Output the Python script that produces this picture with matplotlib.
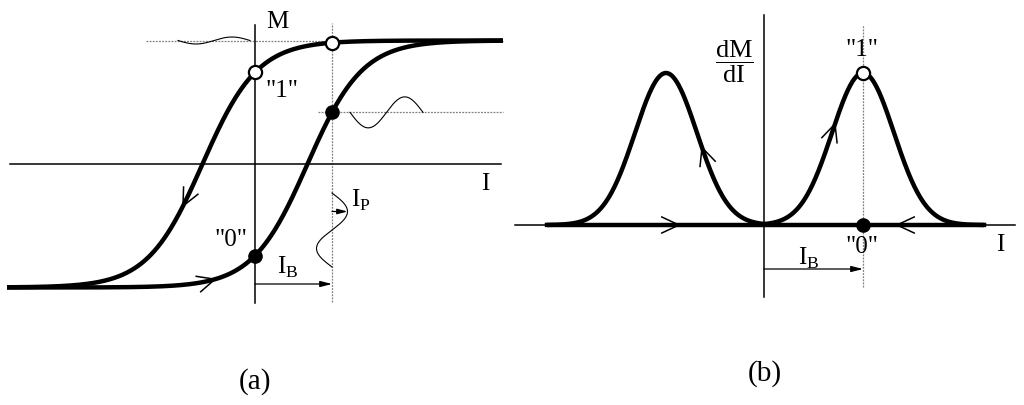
import numpy as np
import matplotlib.pyplot as plt

plt.rcParams['font.family'] = ['Liberation Serif', 'DejaVu Serif']
plt.rcParams['mathtext.fontset'] = 'custom'
plt.rcParams['mathtext.rm'] = 'Liberation Serif'

# ---- panel (a): hysteresis loop M(I), units = px from the axes crossing
m_sat = 123.5          # saturation level
i_coercive = 52.5      # half width of the loop
loop_w = 55            # steepness of the branches
i_span_a = (-248, 248)
i_bias = 77            # I_B
top_wave = dict(start=-77, period=72, amp=3.5)        # response in state "1"
read_wave = dict(start=95, period=73, amp=15.5)       # response in state "0"
probe_wave = dict(start=-29, period=74, amp=15.5)     # I_P along the M direction
labels_a = [('M', 22, 142), ('"1"', 27, 73), ('"0"', -24, -76),
            ('I', 230, -20), (r'$\mathrm{I}_\mathrm{B}$', 33, -103),
            (r'$\mathrm{I}_\mathrm{P}$', 106, -36)]

# ---- panel (b): dM/dI peaks
peak_centers = [-98, 99]
peak_height = 152
peak_sigma = 31
i_span_b = (-217, 220)
labels_b = [('"1"', 98, 175), ('"0"', 98, -22), ('I', 236, -20),
            (r'$\mathrm{I}_\mathrm{B}$', 45, -33)]

THICK = 3.2
THIN = 1.1
FS = 18
GRAY = dict(color='0.5', lw=0.9, ls=(0, (1.5, 1)), zorder=1)


def chevron(ax, x, y, xq, sign, length=19, half=25):
    # open arrow head drawn on the curve (x, y) at xq, travel direction by sign
    yq = np.interp(xq, x, y)
    dy = np.interp(xq, x, np.gradient(y, x))
    d = np.array([1.0, dy]) * sign
    d /= np.hypot(*d)
    for a in (half, -half):
        t = np.radians(a)
        back = -np.array([d[0] * np.cos(t) - d[1] * np.sin(t),
                          d[0] * np.sin(t) + d[1] * np.cos(t)])
        ax.plot([xq, xq + length * back[0]], [yq, yq + length * back[1]],
                color='black', lw=THIN, zorder=4)


fig = plt.figure(figsize=(10.24, 4.05), dpi=100)

# ================= (a)
ax = fig.add_axes([0, 0, 0.5, 1])
ax.set_xlim(-255, 257)
ax.set_ylim(-241, 164)
ax.axis('off')

ax.plot([-245, 246], [0, 0], color='black', lw=THIN)
ax.plot([0, 0], [-139, 139], color='black', lw=THIN)

ax.plot([-109, i_span_a[1]], [m_sat, m_sat], **GRAY)
ax.plot([i_bias, i_bias], [-138, 141], **GRAY)

I = np.linspace(*i_span_a, 600)
m_down = m_sat * np.tanh((I + i_coercive) / loop_w)
m_up = m_sat * np.tanh((I - i_coercive) / loop_w)
ax.plot(I, m_down, color='black', lw=THICK, solid_capstyle='butt', zorder=3)
ax.plot(I, m_up, color='black', lw=THICK, solid_capstyle='butt', zorder=3)
chevron(ax, I, m_down, -72, -1)
chevron(ax, I, m_up, -40, 1)

m_read = np.interp(i_bias, I, m_up)
ax.plot([63, i_span_a[1]], [m_read, m_read], **GRAY)

s = np.linspace(0, 1, 200)
ax.plot(top_wave['start'] + s * top_wave['period'],
        m_sat - top_wave['amp'] * np.sin(2 * np.pi * s), color='black', lw=0.8)
ax.plot(read_wave['start'] + s * read_wave['period'],
        m_read - read_wave['amp'] * np.sin(2 * np.pi * s), color='black', lw=0.8)
ax.plot(i_bias + probe_wave['amp'] * np.sin(2 * np.pi * s),
        probe_wave['start'] - s * probe_wave['period'], color='black', lw=0.8)

ax.annotate('', xy=(i_bias, -120), xytext=(0, -120),
            arrowprops=dict(arrowstyle='-|>,head_length=0.7,head_width=0.18',
                            color='black', lw=0.9, shrinkA=0, shrinkB=0))
p_y = probe_wave['start'] - probe_wave['period'] / 4
ax.annotate('', xy=(i_bias + probe_wave['amp'], p_y), xytext=(i_bias, p_y),
            arrowprops=dict(arrowstyle='-|>,head_length=0.6,head_width=0.16',
                            color='black', lw=0.9, shrinkA=0, shrinkB=0))

for xi, mi in [(0, np.interp(0, I, m_down)), (i_bias, np.interp(i_bias, I, m_down))]:
    ax.plot(xi, mi, 'o', ms=9.5, mfc='white', mec='black', mew=1.6, zorder=5)
for xi in [0, i_bias]:
    ax.plot(xi, np.interp(xi, I, m_up), 'o', ms=9.5, color='black', zorder=5)

for txt, x, y in labels_a:
    ax.text(x, y, txt, fontsize=FS, ha='center', va='center')
ax.text(0, -218, '(a)', fontsize=21, ha='center', va='center')

# ================= (b)
bx = fig.add_axes([0.5, 0, 0.5, 1])
bx.set_xlim(-252, 260)
bx.set_ylim(-180, 225)
bx.axis('off')

bx.plot([-249, 251], [0, 0], color='black', lw=THIN)
bx.plot([0, 0], [-72, 210], color='black', lw=THIN)
bx.plot([peak_centers[1], peak_centers[1]], [-62, 200], **GRAY)

bx.plot(list(i_span_b), [0, 0], color='black', lw=THICK, solid_capstyle='butt', zorder=3)
Il = np.linspace(i_span_b[0], 0, 300)
Ir = np.linspace(0, i_span_b[1], 300)
dl = peak_height * np.exp(-0.5 * ((Il - peak_centers[0]) / peak_sigma) ** 2)
dr = peak_height * np.exp(-0.5 * ((Ir - peak_centers[1]) / peak_sigma) ** 2)
bx.plot(Il, dl, color='black', lw=THICK, zorder=3)
bx.plot(Ir, dr, color='black', lw=THICK, zorder=3)
chevron(bx, Il, dl, -62, -1)
chevron(bx, Ir, dr, 71, 1)
flat = np.array(i_span_b, dtype=float)
chevron(bx, flat, np.zeros(2), -85, 1)
chevron(bx, flat, np.zeros(2), 133, -1)

bx.annotate('', xy=(peak_centers[1], -44), xytext=(0, -44),
            arrowprops=dict(arrowstyle='-|>,head_length=0.7,head_width=0.18',
                            color='black', lw=0.9, shrinkA=0, shrinkB=0))

bx.plot(peak_centers[1], peak_height, 'o', ms=9.5, mfc='white', mec='black', mew=1.6, zorder=5)
bx.plot(peak_centers[1], 0, 'o', ms=9.5, color='black', zorder=5)

for txt, x, y in labels_b:
    bx.text(x, y, txt, fontsize=FS, ha='center', va='center')
bx.text(-30, 163, r'$\dfrac{\mathrm{dM}}{\mathrm{dI}}$', fontsize=19, ha='center', va='center')
bx.text(1, -149, '(b)', fontsize=21, ha='center', va='center')

fig.savefig('out.png', dpi=100)
